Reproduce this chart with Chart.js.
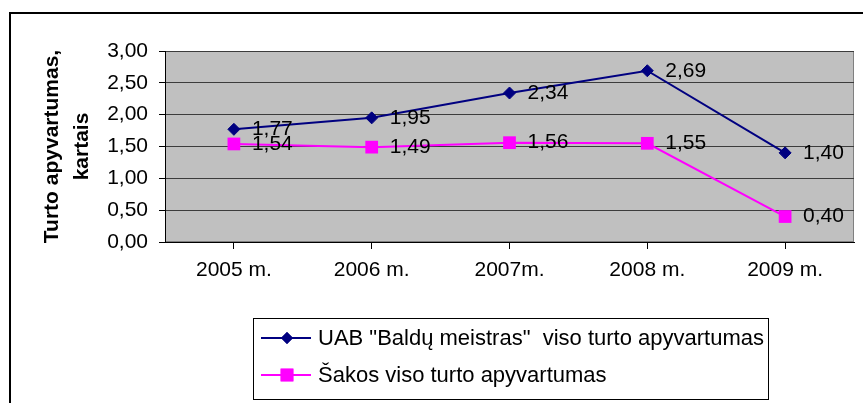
<!DOCTYPE html>
<html>
<head>
<meta charset="utf-8">
<script src="https://cdn.jsdelivr.net/npm/chart.js@4.4.1/dist/chart.umd.min.js"></script>
<style>
  body { margin: 0; background: #fff; }
  #wrap { width: 863px; height: 403px; position: relative; }
</style>
</head>
<body>
<div id="wrap"><canvas id="myChart"></canvas></div>
<script>
const years = ['2005 m.', '2006 m.', '2007m.', '2008 m.', '2009 m.'];
const companyName = 'UAB "Baldų meistras"  viso turto apyvartumas';
const companyValues = [1.77, 1.95, 2.34, 2.69, 1.40];
const sectorName = 'Šakos viso turto apyvartumas';
const sectorValues = [1.54, 1.49, 1.56, 1.55, 0.40];
const yTitle = ['Turto apyvartumas,', 'kartais'];

const FONT = "'Liberation Sans', Arial, sans-serif";

function fmt(v) {
  return v.toFixed(2).replace('.', ',');
}

// outer frame + grey plot background
const framePlugin = {
  id: 'frame',
  beforeDraw(chart) {
    const c = chart.ctx;
    const a = chart.chartArea;
    c.save();
    c.fillStyle = '#fff';
    c.fillRect(0, 0, chart.width, chart.height);
    c.strokeStyle = '#000';
    c.lineWidth = 2;
    c.beginPath();
    c.moveTo(10, chart.height + 5);
    c.lineTo(10, 13);
    c.lineTo(chart.width + 5, 13);
    c.stroke();
    c.fillStyle = '#c0c0c0';
    c.fillRect(a.left, a.top, a.right - a.left, a.bottom - a.top);
    c.strokeStyle = '#808080';
    c.lineWidth = 1;
    c.strokeRect(a.left + 0.5, a.top + 0.5, a.right - a.left - 1, a.bottom - a.top - 1);
    c.restore();
  }
};

// value labels right of each point
const valueLabels = {
  id: 'valueLabels',
  afterDatasetsDraw(chart) {
    const c = chart.ctx;
    c.save();
    c.font = '21px ' + FONT;
    c.fillStyle = '#000';
    c.textAlign = 'left';
    c.textBaseline = 'middle';
    chart.data.datasets.forEach((ds, i) => {
      chart.getDatasetMeta(i).data.forEach((pt, j) => {
        c.fillText(fmt(ds.data[j]), pt.x + 18, pt.y);
      });
    });
    c.restore();
  }
};

// boxed legend under the chart
const boxLegend = {
  id: 'boxLegend',
  afterDraw(chart) {
    const c = chart.ctx;
    c.save();
    c.strokeStyle = '#000';
    c.lineWidth = 1;
    c.strokeRect(253.5, 318.5, 515, 81);
    c.font = '22px ' + FONT;
    c.textBaseline = 'middle';
    c.textAlign = 'left';
    const rows = [338, 375];
    chart.data.datasets.forEach((ds, i) => {
      const y = rows[i];
      c.strokeStyle = ds.borderColor;
      c.lineWidth = 2;
      c.beginPath();
      c.moveTo(261, y);
      c.lineTo(311, y);
      c.stroke();
      c.fillStyle = ds.pointBackgroundColor;
      Chart.helpers.drawPoint(c, {
        pointStyle: ds.pointStyle,
        radius: ds.pointRadius,
        rotation: 0,
        borderWidth: 0
      }, 287, y);
      c.fill();
      c.fillStyle = '#000';
      c.fillText(ds.label, 318, y + 1);
    });
    c.restore();
  }
};

new Chart(document.getElementById('myChart'), {
  type: 'line',
  data: {
    labels: years,
    datasets: [{
      label: companyName,
      data: companyValues,
      borderColor: '#000080',
      backgroundColor: '#000080',
      pointBackgroundColor: '#000080',
      pointBorderColor: '#000080',
      pointStyle: 'rectRot',
      pointRadius: 6,
      pointBorderWidth: 1,
      borderWidth: 2,
      tension: 0
    }, {
      label: sectorName,
      data: sectorValues,
      borderColor: '#ff00ff',
      backgroundColor: '#ff00ff',
      pointBackgroundColor: '#ff00ff',
      pointBorderColor: '#ff00ff',
      pointStyle: 'rect',
      pointRadius: 9,
      pointBorderWidth: 0,
      borderWidth: 2,
      tension: 0
    }]
  },
  options: {
    responsive: true,
    maintainAspectRatio: false,
    animation: false,
    layout: { padding: { left: 0, top: 51, right: 4, bottom: 0 } },
    plugins: {
      legend: { display: false },
      tooltip: { enabled: false }
    },
    scales: {
      x: {
        offset: true,
        afterFit: (s) => { s.height = 161; },
        grid: {
          drawOnChartArea: false,
          tickLength: 7,
          tickColor: '#000'
        },
        border: { color: '#000', width: 1 },
        ticks: {
          color: '#000',
          padding: 9,
          maxRotation: 0,
          font: { family: FONT, size: 21 }
        }
      },
      y: {
        min: 0,
        max: 3,
        afterFit: (s) => { s.width = 165; },
        grid: {
          color: '#3c3c3c',
          tickLength: 6,
          tickColor: '#000'
        },
        border: { color: '#000', width: 1 },
        ticks: {
          stepSize: 0.5,
          color: '#000',
          padding: 11,
          font: { family: FONT, size: 21 },
          callback: (v) => fmt(v)
        },
        title: {
          display: true,
          text: yTitle,
          color: '#000',
          padding: { top: 37 },
          font: { family: FONT, size: 21, weight: 'bold', lineHeight: 1.45 }
        }
      }
    }
  },
  plugins: [framePlugin, valueLabels, boxLegend]
});
</script>
</body>
</html>
